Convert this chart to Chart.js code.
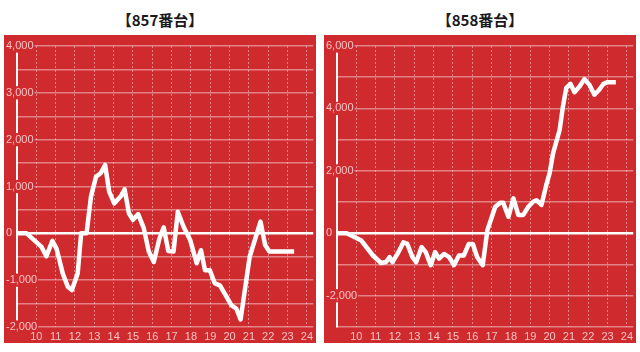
<!DOCTYPE html>
<html>
<head>
<meta charset="utf-8">
<script src="https://cdn.jsdelivr.net/npm/chart.js@4.4.1/dist/chart.umd.min.js"></script>
<style>
    html, body { margin: 0; padding: 0; background: #fff; }
    body { width: 640px; height: 352px; position: relative; overflow: hidden; }
    .title {
        position: absolute; top: 9px; width: 312px; text-align: center;
        font-family: "Noto Sans CJK JP", "Noto Sans", sans-serif;
        font-weight: bold; font-size: 15px; color: #1a1a1a;
    }
    .plot { position: absolute; top: 35px; width: 312px; height: 308px; background: #cf2a2e; }
</style>
</head>
<body>
<div class="title" style="left:4px">【857番台】</div>
<div class="title" style="left:324px">【858番台】</div>
<div class="plot" style="left:4px"><canvas id="chart857"></canvas></div>
<div class="plot" style="left:324px"><canvas id="chart858"></canvas></div>
<script>
    // Hour ticks shown under both charts
    const hourTicks = [10, 11, 12, 13, 14, 15, 16, 17, 18, 19, 20, 21, 22, 23, 24];

    // 857番台: time (hours) and balance
    const hours857 = [9, 9.5, 10.27, 10.52, 10.83, 11.04, 11.37, 11.63, 11.84, 12.14, 12.32, 12.6,
        12.83, 13.09, 13.34, 13.56, 13.77, 14.03, 14.37, 14.57, 14.79, 15.0, 15.27, 15.56, 15.82,
        16.08, 16.37, 16.59, 16.83, 17.1, 17.32, 17.62, 17.96, 18.3, 18.52, 18.73, 18.98, 19.24,
        19.5, 20.1, 20.35, 20.57, 21.04, 21.6, 21.84, 22.06, 23.34];
    const values857 = [0, 0, -290, -490, -160, -320, -860, -1140, -1210, -860, 0, 0,
        790, 1210, 1290, 1460, 890, 640, 790, 940, 430, 290, 410, 110, -390,
        -610, -110, 130, -380, -390, 460, 140, -140, -640, -360, -790, -790, -1070,
        -1110, -1540, -1610, -1840, -500, 250, -250, -390, -390];

    // 858番台
    const hours858 = [9, 9.5, 10.26, 10.86, 11.28, 11.54, 11.72, 11.87, 12.13, 12.43, 12.64, 12.9,
        13.1, 13.38, 13.59, 13.85, 14.08, 14.28, 14.54, 14.8, 15.05, 15.31, 15.56, 15.82, 16.03,
        16.25, 16.54, 16.78, 17.19, 17.45, 17.6, 17.87, 18.13, 18.38, 18.64, 18.9, 19.15, 19.32,
        19.58, 19.83, 20.0, 20.18, 20.52, 20.69, 20.86, 21.08, 21.29, 21.55, 21.8, 22.06, 22.32,
        22.57, 22.79, 23.0, 23.43];
    const values858 = [0, 0, -230, -710, -950, -920, -760, -920, -660, -290, -340, -760,
        -920, -440, -600, -1020, -600, -810, -660, -760, -1020, -710, -710, -340, -340,
        -760, -1020, 100, 850, 980, 980, 530, 1120, 590, 590, 850, 1010, 1060,
        910, 1550, 1920, 2560, 3310, 4060, 4650, 4790, 4520, 4700, 4940, 4760, 4440,
        4600, 4790, 4840, 4840];

    const PANEL_RED = '#cf2a2e';
    const LABEL_COLOR = '#f5c2c2';
    const GRID_COLOR = 'rgba(255, 255, 255, 0.42)';

    function buildChart(canvasId, xs, ys, yMin, yMax, yStep, labelStep) {
        const ctx = document.getElementById(canvasId);
        return new Chart(ctx, {
            type: 'line',
            data: {
                datasets: [{
                    data: xs.map((x, i) => ({ x: x, y: ys[i] })),
                    borderColor: '#ffffff',
                    borderWidth: 4.5,
                    borderJoinStyle: 'round',
                    pointRadius: 0,
                    tension: 0,
                    fill: false
                }]
            },
            options: {
                responsive: true,
                maintainAspectRatio: false,
                animation: false,
                events: [],
                layout: { padding: { left: 13, top: 11, right: 0, bottom: 0 } },
                plugins: { legend: { display: false }, tooltip: { enabled: false } },
                scales: {
                    x: {
                        type: 'linear',
                        min: 9,
                        max: 24.33,
                        afterBuildTicks: function(scale) {
                            scale.ticks = hourTicks.map(v => ({ value: v }));
                        },
                        afterFit: function(scale) { scale.height = 16; },
                        ticks: {
                            z: 1,
                            autoSkip: false,
                            maxRotation: 0,
                            padding: 3,
                            color: LABEL_COLOR,
                            font: { family: 'Liberation Sans, Arial, sans-serif', size: 11 }
                        },
                        grid: { color: GRID_COLOR, lineWidth: 1, drawTicks: false },
                        border: { display: false, dash: [2, 2] }
                    },
                    y: {
                        min: yMin,
                        max: yMax,
                        afterFit: function(scale) { scale.width = 0; },
                        ticks: {
                            stepSize: yStep,
                            mirror: true,
                            padding: -11,
                            color: LABEL_COLOR,
                            font: { family: 'Liberation Sans, Arial, sans-serif', size: 11 },
                            showLabelBackdrop: true,
                            backdropColor: PANEL_RED,
                            backdropPadding: { x: 1, y: 0 },
                            callback: function(value) {
                                return value % labelStep === 0 ? value.toLocaleString('en-US') : '';
                            }
                        },
                        grid: {
                            drawTicks: false,
                            color: c => c.tick && c.tick.value === 0 ? '#ffffff' : GRID_COLOR,
                            lineWidth: c => c.tick && c.tick.value === 0 ? 2.5 : 1.5
                        },
                        border: { display: true, color: '#ffffff', width: 2 }
                    }
                }
            }
        });
    }

    buildChart('chart857', hours857, values857, -2000, 4000, 500, 1000);
    buildChart('chart858', hours858, values858, -3000, 6000, 1000, 2000);
</script>
</body>
</html>
